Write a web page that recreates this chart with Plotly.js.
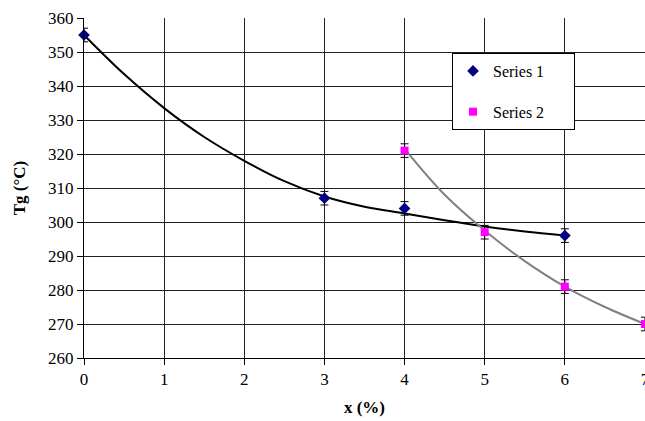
<!DOCTYPE html>
<html>
<head>
<meta charset="utf-8">
<script src="https://cdn.plot.ly/plotly-3.0.1.min.js"></script>
<style>html,body{margin:0;padding:0;background:#fff;}#chart{width:645px;height:421px;}</style>
</head>
<body>
<div id="chart"></div>
<script>
// Measured points
var s1X = [0, 3, 4, 6];
var s1Y = [355, 307, 304, 296];
var s1Err = [2, 2, 2, 2];
var s2X = [4, 5, 6, 7];
var s2Y = [321, 297, 281, 270];
var s2Err = [2, 2, 2, 2];
// Trendlines
var t1X = [0, 0.5, 1, 1.5, 2, 2.5, 3, 3.5, 4, 4.5, 5, 5.5, 6];
var t1Y = [355, 343.5, 333.5, 325, 318, 312, 307.5, 304.5, 302.5, 300.5, 298.7, 297.2, 296];
var t2X = [4, 4.5, 5, 5.5, 6, 6.5, 7];
var t2Y = [321.5, 308, 297.5, 288.5, 281, 275, 270];
var xTicks = [0, 1, 2, 3, 4, 5, 6, 7];
var yTicks = [260, 270, 280, 290, 300, 310, 320, 330, 340, 350, 360];
var seriesNames = ['Series 1', 'Series 2'];

var fam = '"Liberation Serif", "Times New Roman", serif';
var font = {family: fam, size: 17, color: '#000'};
var pad = '\u00a0\u00a0\u00a0\u00a0\u00a0\u00a0';

var traces = [
  {x: t1X, y: t1Y, mode: 'lines', line: {color: '#000', width: 2, shape: 'spline'}, showlegend: false, hoverinfo: 'skip', cliponaxis: false},
  {x: t2X, y: t2Y, mode: 'lines', line: {color: '#808080', width: 2, shape: 'spline'}, showlegend: false, hoverinfo: 'skip', cliponaxis: false},
  {x: s1X, y: s1Y, name: seriesNames[0] + pad, mode: 'markers', legendgroup: 'a',
   marker: {symbol: 'diamond', size: 9, color: '#000080'},
   error_y: {type: 'data', array: s1Err, visible: true, color: '#000', thickness: 1, width: 4}, cliponaxis: false},
  {x: s2X, y: s2Y, name: seriesNames[1] + pad, mode: 'markers', legendgroup: 'b',
   marker: {symbol: 'square', size: 8, color: '#FF00FF'},
   error_y: {type: 'data', array: s2Err, visible: true, color: '#000', thickness: 1, width: 4}, cliponaxis: false}
];

var layout = {
  width: 645, height: 421,
  margin: {l: 84, r: 0, t: 18, b: 63},
  paper_bgcolor: '#fff', plot_bgcolor: '#fff',
  font: font,
  showlegend: true,
  legend: {x: 0.656, y: 0.897, xanchor: 'left', yanchor: 'top', bgcolor: '#fff',
           bordercolor: '#000', borderwidth: 1, tracegroupgap: 17,
           font: {family: fam, size: 16, color: '#000'}},
  xaxis: {range: [0, 7], tickvals: xTicks, ticktext: xTicks.map(String),
          showgrid: true, gridcolor: '#222', gridwidth: 1,
          showline: true, linecolor: '#000', linewidth: 1,
          ticks: 'outside', ticklen: 6, tickcolor: '#000', zeroline: false,
          ticklabeloverflow: 'allow',
          tickfont: {family: fam, size: 17},
          title: {text: '<b>x (%)</b>', font: {family: fam, size: 17}, standoff: 12}},
  yaxis: {range: [260, 360], tickvals: yTicks, ticktext: yTicks.map(String),
          showgrid: true, gridcolor: '#222', gridwidth: 1,
          showline: true, linecolor: '#000', linewidth: 1,
          ticks: 'outside', ticklen: 6, tickcolor: '#000', zeroline: false,
          tickfont: {family: fam, size: 17},
          title: {text: '<b>Tg (°C)</b>', font: {family: fam, size: 17}, standoff: 18}}
};

Plotly.newPlot('chart', traces, layout, {displayModeBar: false, staticPlot: true});
</script>
</body>
</html>
